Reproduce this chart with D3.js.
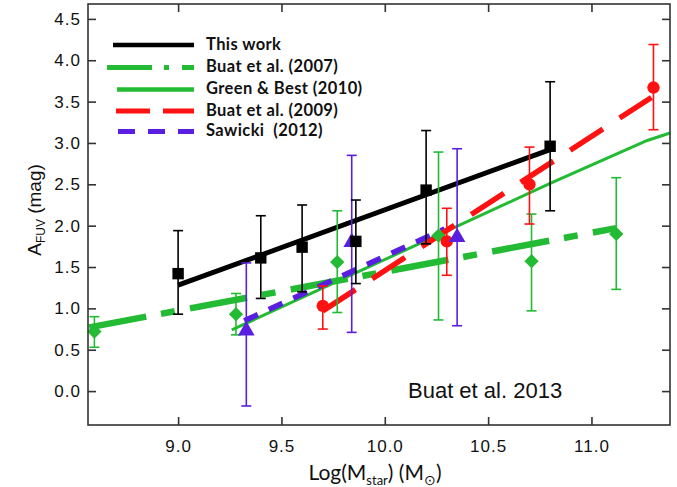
<!DOCTYPE html>
<html>
<head>
<meta charset="utf-8">
<script src="https://cdn.jsdelivr.net/npm/d3@7"></script>
<style>
  body { margin: 0; background: #fff; }
  svg { display: block; }
</style>
</head>
<body>
<div id="chart"></div>
<script>
// ---- data ----
var xTicks = [9.0, 9.5, 10.0, 10.5, 11.0];
var yTicks = [0.0, 0.5, 1.0, 1.5, 2.0, 2.5, 3.0, 3.5, 4.0, 4.5];

// This work (black squares + fit)
var thisWorkX  = [9.00, 9.40, 9.60, 9.86, 10.20, 10.80];
var thisWorkY  = [1.42, 1.61, 1.74, 1.81, 2.43, 2.96];
var thisWorkHi = [1.94, 2.12, 2.25, 2.31, 3.15, 3.74];
var thisWorkLo = [0.93, 1.12, 1.20, 1.30, 1.78, 2.18];
var thisWorkFitX = [9.00, 10.80];
var thisWorkFitY = [1.28, 2.92];

// Buat et al. (2007) (green diamonds + dash-dot fit)
var buat07X  = [8.595, 9.28, 9.77, 10.26, 10.71, 11.12];
var buat07Y  = [0.72, 0.93, 1.56, 1.88, 1.57, 1.90];
var buat07Hi = [0.90, 1.18, 2.18, 2.89, 2.14, 2.58];
var buat07Lo = [0.53, 0.68, 0.95, 0.86, 0.97, 1.23];
var buat07FitX = [8.57, 11.12];
var buat07FitY = [0.77, 1.97];

// Green & Best (2010)
var greenBestX = [9.26, 10.80, 11.27, 11.38];
var greenBestY = [0.74, 2.51, 3.03, 3.12];

// Buat et al. (2009) (red circles + dashed fit)
var buat09X  = [9.70, 10.30, 10.70, 11.30];
var buat09Y  = [1.03, 1.81, 2.50, 3.67];
var buat09Hi = [1.27, 2.21, 2.95, 4.19];
var buat09Lo = [0.75, 1.40, 2.02, 3.16];
var buat09FitX = [9.70, 11.29];
var buat09FitY = [0.97, 3.55];

// Sawicki (2012) (purple triangles + dashed fit)
var sawickiX  = [9.33, 9.84, 10.35];
var sawickiY  = [0.73, 1.80, 1.86];
var sawickiHi = [1.55, 2.85, 2.93];
var sawickiLo = [-0.18, 0.71, 0.79];
var sawickiFitX = [9.32, 10.29];
var sawickiFitY = [0.85, 1.96];

var legendNames = ["This work", "Buat et al. (2007)", "Green & Best (2010)", "Buat et al. (2009)", "Sawicki  (2012)"];

// ---- drawing ----
var w = 677;
var h = 487;
var plotL = 88, plotR = 670, plotT = 4, plotB = 425;

var black = "#000";
var green = "#22bb33";
var red = "#ff1111";
var purple = "#5a1ee0";
var frame = "#333";

var xScale = d3.scaleLinear().domain([8.564, 11.38]).range([plotL, plotR]);
var yScale = d3.scaleLinear().domain([-0.41, 4.68]).range([plotB, plotT]);

var svg = d3.select("#chart")
            .append("svg")
            .attr("width", w)
            .attr("height", h);

function pairs(xs, ys) {
  return xs.map(function(d, i) { return [d, ys[i]]; });
}

var line = d3.line()
             .x(function(d) { return xScale(d[0]); })
             .y(function(d) { return yScale(d[1]); });

function drawLine(xs, ys, color, width, dash) {
  svg.append("path")
     .datum(pairs(xs, ys))
     .attr("d", line)
     .attr("fill", "none")
     .attr("stroke", color)
     .attr("stroke-width", width)
     .attr("stroke-dasharray", dash || null);
}

// fits
drawLine(greenBestX, greenBestY, green, 3);
drawLine(buat07FitX, buat07FitY, green, 6.5, "58,15,14,15.5");
drawLine(sawickiFitX, sawickiFitY, purple, 5.5, "15,12");
drawLine(buat09FitX, buat09FitY, red, 5.5, "39,20");
drawLine(thisWorkFitX, thisWorkFitY, black, 5);

// error bars
function drawErrors(xs, hi, lo, color) {
  var g = svg.append("g").attr("stroke", color).attr("stroke-width", 1.6);
  xs.forEach(function(d, i) {
    var cx = xScale(d);
    g.append("line").attr("x1", cx).attr("x2", cx)
     .attr("y1", yScale(hi[i])).attr("y2", yScale(lo[i]));
    [hi[i], lo[i]].forEach(function(v) {
      g.append("line").attr("x1", cx - 5).attr("x2", cx + 5)
       .attr("y1", yScale(v)).attr("y2", yScale(v));
    });
  });
}

function drawMarkers(xs, ys, type, size, color) {
  svg.append("g")
     .selectAll("path")
     .data(pairs(xs, ys))
     .enter()
     .append("path")
     .attr("transform", function(d) {
       return "translate(" + xScale(d[0]) + "," + yScale(d[1]) + ")";
     })
     .attr("d", d3.symbol().type(type).size(size))
     .attr("fill", color);
}

drawErrors(buat07X, buat07Hi, buat07Lo, green);
drawMarkers(buat07X, buat07Y, d3.symbolDiamond2, 130, green);

drawErrors(buat09X, buat09Hi, buat09Lo, red);
drawMarkers(buat09X, buat09Y, d3.symbolCircle, 120, red);

drawErrors(sawickiX, sawickiHi, sawickiLo, purple);
drawMarkers(sawickiX, sawickiY, d3.symbolTriangle, 120, purple);

drawErrors(thisWorkX, thisWorkHi, thisWorkLo, black);
drawMarkers(thisWorkX, thisWorkY, d3.symbolSquare, 130, black);

// frame + axes (ticks point inward on all four sides)
svg.append("rect")
   .attr("x", plotL).attr("y", plotT)
   .attr("width", plotR - plotL).attr("height", plotB - plotT)
   .attr("fill", "none").attr("stroke", frame).attr("stroke-width", 1.6);

var xAxis = svg.append("g")
   .attr("transform", "translate(0," + plotB + ")")
   .call(d3.axisBottom(xScale).tickValues(xTicks).tickSize(-8).tickPadding(15)
         .tickFormat(d3.format(".1f")));
svg.append("g")
   .attr("transform", "translate(0," + plotT + ")")
   .call(d3.axisTop(xScale).tickValues(xTicks).tickSize(-8).tickFormat(""));
var yAxis = svg.append("g")
   .attr("transform", "translate(" + plotL + ",0)")
   .call(d3.axisLeft(yScale).tickValues(yTicks).tickSize(-8).tickPadding(7)
         .tickFormat(d3.format(".1f")));
svg.append("g")
   .attr("transform", "translate(" + plotR + ",0)")
   .call(d3.axisRight(yScale).tickValues(yTicks).tickSize(-8).tickFormat(""));

svg.selectAll(".domain").remove();
svg.selectAll(".tick line").attr("stroke", frame).attr("stroke-width", 1.6);
svg.selectAll(".tick text")
   .attr("font-family", "'Liberation Sans', Arial, sans-serif")
   .attr("font-size", 17)
   .attr("letter-spacing", 1)
   .attr("fill", "#111");

// axis titles
var xt = svg.append("text")
   .attr("x", 375).attr("y", 480)
   .attr("text-anchor", "middle")
   .attr("font-family", "Lato, 'Open Sans', sans-serif")
   .attr("font-size", 21)
   .attr("fill", "#111");
xt.append("tspan").text("Log(M");
xt.append("tspan").attr("font-size", 13).attr("dy", 5).text("star");
xt.append("tspan").attr("dy", -5).text(") (M");
xt.append("tspan").attr("font-size", 14).attr("dy", 5).text("\u2299");
xt.append("tspan").attr("dy", -5).text(")");

var yt = svg.append("text")
   .attr("transform", "translate(41,210) rotate(-90)")
   .attr("text-anchor", "middle")
   .attr("font-family", "'Liberation Sans', Arial, sans-serif")
   .attr("font-size", 19)
   .attr("fill", "#111");
yt.append("tspan").text("A");
yt.append("tspan").attr("font-size", 12).attr("dy", 4).text("FUV");
yt.append("tspan").attr("dy", -4).text(" (mag)");

// annotation
svg.append("text")
   .attr("x", 408).attr("y", 398)
   .attr("font-family", "'Liberation Sans', Arial, sans-serif")
   .attr("font-size", 22)
   .attr("fill", "#111")
   .text("Buat et al. 2013");

// legend
var legendColors = [black, green, green, red, purple];
var legendWidths = [4.5, 5, 4.5, 5, 5];
var legendDash = [null, "45,12,5,13,13", null, "34,13,31", "17,13,17,13,17"];
var legendX1 = [113, 107, 117, 116, 118];
var legendRowY = [45, 67.5, 89.5, 111, 131.5];

var lg = svg.append("g");
legendNames.forEach(function(name, i) {
  lg.append("line")
    .attr("x1", legendX1[i]).attr("x2", 194)
    .attr("y1", legendRowY[i]).attr("y2", legendRowY[i])
    .attr("stroke", legendColors[i])
    .attr("stroke-width", legendWidths[i])
    .attr("stroke-dasharray", legendDash[i]);
  lg.append("text")
    .attr("x", 206).attr("y", legendRowY[i] + 4.5)
    .attr("font-family", "Lato, 'Open Sans', sans-serif")
    .attr("font-weight", "bold")
    .attr("font-size", 16.5)
    .attr("letter-spacing", 0.4)
    .attr("fill", "#111")
    .style("white-space", "pre")
    .text(name);
});
</script>
</body>
</html>
